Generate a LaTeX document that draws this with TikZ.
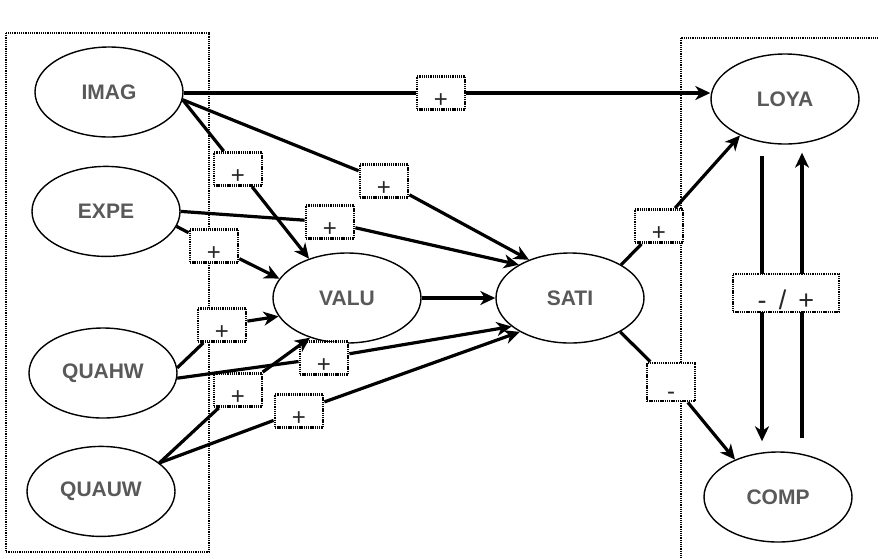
\documentclass[tikz,border=0pt]{standalone}
\usepackage{fontspec}
\setmainfont{Liberation Sans}
\usetikzlibrary{positioning,shapes.geometric,arrows.meta}

\begin{document}
\begin{tikzpicture}[x=0.5pt,y=-0.5pt,
  latent/.style={draw, ellipse, line width=0.7pt, minimum width=74pt, minimum height=45pt, inner sep=0pt, fill=white, text=black!65, font=\bfseries\fontsize{10.5}{12}\selectfont},
  sign/.style={draw, line width=1.4pt, dash pattern=on 0.65pt off 0.45pt, fill=white, minimum width=24pt, minimum height=16.5pt, inner sep=1pt, text height=14.5pt, text depth=0pt, text=black!85, font=\fontsize{12}{14}\selectfont},
  link/.style={line width=1.6pt},
  arr/.style={link, -{Stealth[length=7.5pt,width=7pt,inset=2.3pt]}},
  frame/.style={line width=1pt, dash pattern=on 0.6pt off 0.5pt}]
\clip (0,0) rectangle (878,558);
\draw[frame] (6,33) rectangle (209,552);
\draw[frame] (681,38) rectangle (895,575);
\node [latent] (IMAG) at (109,92) {IMAG};
\node [latent] (EXPE) [below=14pt of IMAG, xshift=-1.5pt] {EXPE};
\node [latent] (QUAHW) at (103,373) {QUAHW};
\node [latent] (QUAUW) [below=13.5pt of QUAHW, xshift=-1pt] {QUAUW};
\node [latent] (VALU) at (347,298) {VALU};
\node [latent] (SATI) at (570,298) {SATI};
\node [latent] (LOYA) at (785,99) {LOYA};
\node [latent] (COMP) at (778,497) {COMP};
% signs on the paths
\node [sign] (IL) at (441,93) {+};
\node [sign] (IV) at (238,169) {+};
\node [sign] (IS) at (384,181) {+};
\node [sign] (ES) at (330,222) {+};
\node [sign] (EV) at (214,246) {+};
\node [sign] (HV) at (222,325) {+};
\node [sign] (HS) at (324,358) {+};
\node [sign] (UV) at (238,390) {+};
\node [sign] (US) at (299,411) {+};
\node [sign] (SL) at (659,226) {+};
\node [sign, minimum height=19pt, text height=17pt] (SC) at (671,382) {-};
\draw[link] (IMAG.east |- IL) -- (IL);
\draw[arr] (IL) -- (IL -| LOYA.west);
\path[link] (IMAG.-6) edge (IV) (IV) edge[arr] (VALU.134);
\path[link] (IMAG.-6) edge (IS) (IS) edge[arr] (SATI.137);
\path[link] (EXPE.east) edge (ES) (ES) edge[arr] (SATI.147);
\path[link] (EXPE.-12) edge (EV) (EV) edge[arr] (VALU.164);
\path[link] (QUAHW.4) edge (HV) (HV) edge[arr] (VALU.195);
\path[link] (QUAHW.-4) edge (HS) (HS) edge[arr] (SATI.206);
\path[link] (QUAUW.26) edge (UV) (UV) edge[arr] (VALU.227);
\path[link] (QUAUW.26) edge (US) (US) edge[arr] (SATI.214);
\draw[arr] (VALU) -- (SATI);
\path[link] (SATI.33) edge (SL) (SL) edge[arr] (LOYA.219);
\path[link] (SATI.-34) edge (SC) (SC) edge[arr] (COMP.139);
% LOYA <-> COMP
\draw[arr] ([xshift=-11.5pt,yshift=-5.5pt]LOYA.south) -- ([xshift=-8pt,yshift=5pt]COMP.north);
\draw[arr] ([xshift=12pt,yshift=6.5pt]COMP.north) -- ([xshift=8.5pt,yshift=-4pt]LOYA.south);
\node [sign, minimum width=53pt, minimum height=19pt, text height=16pt, font=\fontsize{13.5}{15}\selectfont] (LC) at (786,293) {-\hspace{0.45em}/\hspace{0.45em}+};
\end{tikzpicture}
\end{document}
